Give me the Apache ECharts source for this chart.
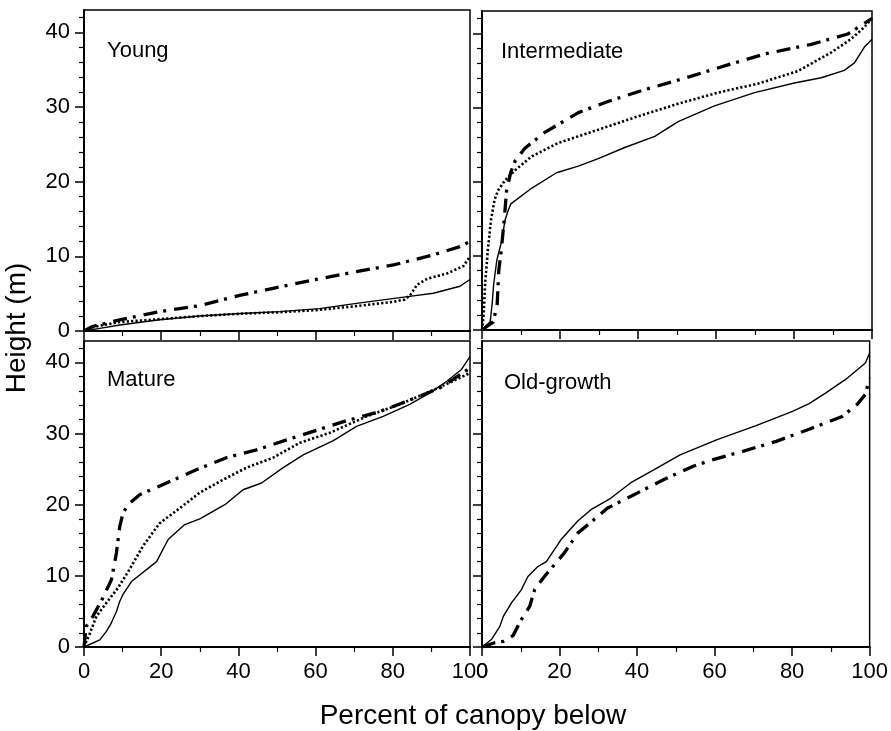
<!DOCTYPE html>
<html>
<head>
<meta charset="utf-8">
<title>Percent of canopy below</title>
<script src="https://cdn.jsdelivr.net/npm/echarts@6/dist/echarts.min.js"></script>
<style>
  html, body { margin: 0; padding: 0; background: #fff; }
  #chart { width: 891px; height: 731px; }
</style>
</head>
<body>
<div id="chart"></div>
<script>
// panel names
const panels = ['Young', 'Intermediate', 'Mature', 'Old-growth']

// tick labels
const xTicks = [0, 20, 40, 60, 80, 100]
const yTicks = [0, 10, 20, 30, 40]

// [percent of canopy below, height (m)]
// young
const youngSolid = [[0, 0], [4.1, 0.35], [9.3, 0.8], [19.6, 1.5], [30, 2.0], [40.6, 2.35], [50.7, 2.6], [61, 3.0], [70.6, 3.7], [85.3, 4.7], [90.5, 5.05], [97.4, 6.0], [100, 6.9]]
const youngDotted = [[0, 0], [2.2, 0.5], [5, 0.8], [9.3, 1.2], [20, 1.6], [30, 2.0], [40, 2.3], [50, 2.5], [60, 2.8], [70, 3.3], [80, 3.9], [83, 4.2], [84.5, 4.8], [86.3, 6.2], [88.9, 7.0], [94, 7.7], [98.3, 8.7], [100, 10.0]]
const youngDashDot = [[0, 0], [2.2, 0.6], [9.3, 1.5], [19.6, 2.6], [30, 3.4], [40.6, 4.8], [50.7, 5.9], [61, 7.0], [70.6, 7.95], [80.2, 8.85], [90.5, 10.2], [97.4, 11.3], [100, 12.0]]
// intermediate
const interSolid = [[0, 0], [2.1, 1.1], [2.6, 3.5], [3.0, 6.2], [3.8, 9.4], [5.1, 12.1], [5.9, 14.8], [6.7, 16.1], [7.4, 17.0], [12.7, 19.1], [19.1, 21.2], [24.7, 22.1], [29.8, 23.1], [36.6, 24.6], [44.3, 26.1], [50.3, 28.1], [59.6, 30.2], [69.9, 32.0], [80.1, 33.3], [87, 34], [92.9, 35], [95.5, 36], [98, 38.1], [100, 39.2]]
const interDotted = [[0, 0], [0.4, 1.9], [0.8, 6.2], [1.5, 10.8], [2.3, 14.8], [3.2, 17.5], [4.1, 18.8], [5.8, 20.1], [8.4, 21.5], [12.7, 23.4], [19.5, 25.2], [29.8, 27], [40, 28.8], [50.3, 30.5], [60.5, 32], [70.7, 33.2], [81, 34.9], [89.5, 37.4], [94.6, 39.2], [98, 40.8], [100, 42]]
const interDashDot = [[0, 0], [2.9, 1.1], [3.9, 3.5], [4.3, 8.0], [5.0, 11], [5.8, 15.5], [6.3, 18.8], [7.4, 21.3], [8.5, 22.8], [11, 24.5], [16, 26.6], [24.7, 29.3], [32.3, 30.8], [41.7, 32.4], [51.1, 33.8], [62.2, 35.6], [72.4, 37.2], [84.4, 38.5], [93.8, 39.9], [100, 42]]
// mature
const matureSolid = [[0, 0], [4.1, 1.0], [5.8, 2.2], [7.1, 3.4], [8.4, 5.0], [9.25, 6.4], [10.1, 7.4], [12.3, 9.2], [18.8, 12.0], [21.8, 15.1], [26.1, 17.2], [30, 18.0], [36.5, 20], [41.2, 22.1], [46, 23.05], [51.6, 25.2], [56.8, 27], [64.6, 29], [70.6, 31], [77.5, 32.4], [84.4, 34.1], [89.6, 35.7], [93.9, 37.3], [97.8, 39], [100, 40.8]]
const matureDotted = [[0, 0], [1.5, 1.9], [3.2, 4.3], [5.8, 6.2], [8.8, 8.3], [11.8, 10.9], [15.3, 14.2], [19.6, 17.4], [24.8, 19.5], [30, 21.7], [36, 23.5], [42.1, 25.2], [49, 26.6], [55.9, 28.7], [63.7, 30.1], [73.2, 32.4], [81.8, 34.1], [90.5, 36.1], [96.5, 37.6], [100, 38.5]]
const matureDashDot = [[0, 0], [0.6, 2.9], [2.3, 4.3], [4.9, 6.9], [7.1, 9.45], [8.4, 13.2], [9.25, 16.9], [10.1, 18.8], [11.4, 20], [14.4, 21.4], [21.4, 23.05], [29.1, 24.9], [36.9, 26.6], [44.7, 27.7], [52.5, 29.1], [61.1, 30.6], [68, 31.8], [76.7, 33.1], [84.4, 34.7], [92.2, 36.4], [100, 39.2]]
// old-growth
const oldSolid = [[0, 0], [2.5, 1.1], [4.6, 2.9], [5.5, 4.3], [7.6, 6.2], [10.1, 8.0], [11.85, 9.9], [14.4, 11.3], [16.6, 12], [20.4, 15.1], [24.7, 17.7], [28.1, 19.3], [33.2, 20.9], [38.3, 23.05], [44.3, 24.9], [51.1, 27], [60.5, 29.1], [70.7, 31.1], [80.1, 33.1], [84.4, 34.2], [88.7, 35.7], [93.8, 37.6], [98.9, 39.9], [100, 41.3]]
const oldDashDot = [[0, 0], [3.3, 0.6], [5.5, 0.8], [8, 1.6], [10.1, 3.8], [12.3, 5.7], [13.6, 8.1], [16.1, 9.9], [21.2, 13.2], [24.7, 16], [28.9, 17.9], [32.3, 19.5], [39.2, 21.4], [46.8, 23.5], [54.5, 25.4], [58.8, 26.2], [67.3, 27.5], [75.9, 28.9], [84.4, 30.6], [92.9, 32.4], [96.8, 34.1], [98.9, 35.5], [100, 37.8]]

const FONT = 'Liberation Sans, Arial, Helvetica, sans-serif'

const styles = {
  solid: { color: '#000', width: 1.4, type: 'solid' },
  dotted: { color: '#000', width: 2.6, type: [2.2, 2.2] },
  dashDot: { color: '#000', width: 3.3, type: [14, 6, 3, 8] }
}

const chart = echarts.init(document.getElementById('chart'))

// each panel: grid box + which lines go in it
const layout = [
  { left: 84, top: 10, width: 386, height: 321, xLabel: false, yLabel: true },
  { left: 482, top: 11, width: 390, height: 319, xLabel: false, yLabel: false },
  { left: 84, top: 341, width: 386, height: 306, xLabel: true, yLabel: true },
  { left: 482, top: 341, width: 390, height: 306, xLabel: true, yLabel: false }
]
const panelLines = [
  [['solid', youngSolid], ['dotted', youngDotted], ['dashDot', youngDashDot]],
  [['solid', interSolid], ['dotted', interDotted], ['dashDot', interDashDot]],
  [['solid', matureSolid], ['dotted', matureDotted], ['dashDot', matureDashDot]],
  [['solid', oldSolid], ['dashDot', oldDashDot]]
]
const labelPos = [[107, 40], [501, 40.5], [107, 369], [504, 372]]

const grids = [], xAxes = [], yAxes = [], series = [], graphics = []

layout.forEach((p, i) => {
  grids.push({
    left: p.left, top: p.top, width: p.width, height: p.height,
    show: true, borderColor: '#000', borderWidth: 1.5, backgroundColor: 'transparent'
  })
  xAxes.push({
    type: 'value', gridIndex: i, min: 0, max: 100, interval: 20,
    axisLine: { onZero: false, lineStyle: { color: '#000', width: 2 } },
    axisTick: { length: 9, lineStyle: { color: '#000', width: 1.5 } },
    minorTick: { show: true, splitNumber: 2, length: 5, lineStyle: { color: '#000', width: 1.2 } },
    axisLabel: {
      show: p.xLabel, margin: 14, color: '#000', fontSize: 22, fontFamily: FONT,
      hideOverlap: false, customValues: xTicks
    },
    splitLine: { show: false }
  })
  yAxes.push({
    type: 'value', gridIndex: i, min: 0, max: 43, interval: 10,
    axisLine: { onZero: false, lineStyle: { color: '#000', width: 2 } },
    axisTick: { length: 9, lineStyle: { color: '#000', width: 1.5 }, customValues: yTicks },
    minorTick: { show: true, splitNumber: 5, length: 5, lineStyle: { color: '#000', width: 1.2 } },
    axisLabel: {
      show: p.yLabel, margin: 14, color: '#000', fontSize: 22, fontFamily: FONT,
      customValues: yTicks
    },
    splitLine: { show: false }
  })
  panelLines[i].forEach(([kind, data]) => {
    series.push({
      type: 'line', xAxisIndex: i, yAxisIndex: i,
      data: data, symbol: 'none', showSymbol: false, smooth: false,
      lineStyle: styles[kind], clip: true, silent: true
    })
  })
  graphics.push({
    type: 'text', x: labelPos[i][0], y: labelPos[i][1],
    style: { text: panels[i], fontSize: 22, fontFamily: FONT, fill: '#000', align: 'left', verticalAlign: 'top' }
  })
})

// axis titles
graphics.push({
  type: 'text', x: 473, y: 716,
  style: { text: 'Percent of canopy below', fontSize: 28, fontFamily: FONT, fill: '#000', align: 'center', verticalAlign: 'middle' }
})
graphics.push({
  type: 'text', x: 17, y: 328, rotation: Math.PI / 2,
  style: { text: 'Height (m)', fontSize: 28, fontFamily: FONT, fill: '#000', align: 'center', verticalAlign: 'middle' }
})

chart.setOption({
  animation: false,
  backgroundColor: '#fff',
  grid: grids,
  xAxis: xAxes,
  yAxis: yAxes,
  series: series,
  graphic: graphics
})
</script>
</body>
</html>
